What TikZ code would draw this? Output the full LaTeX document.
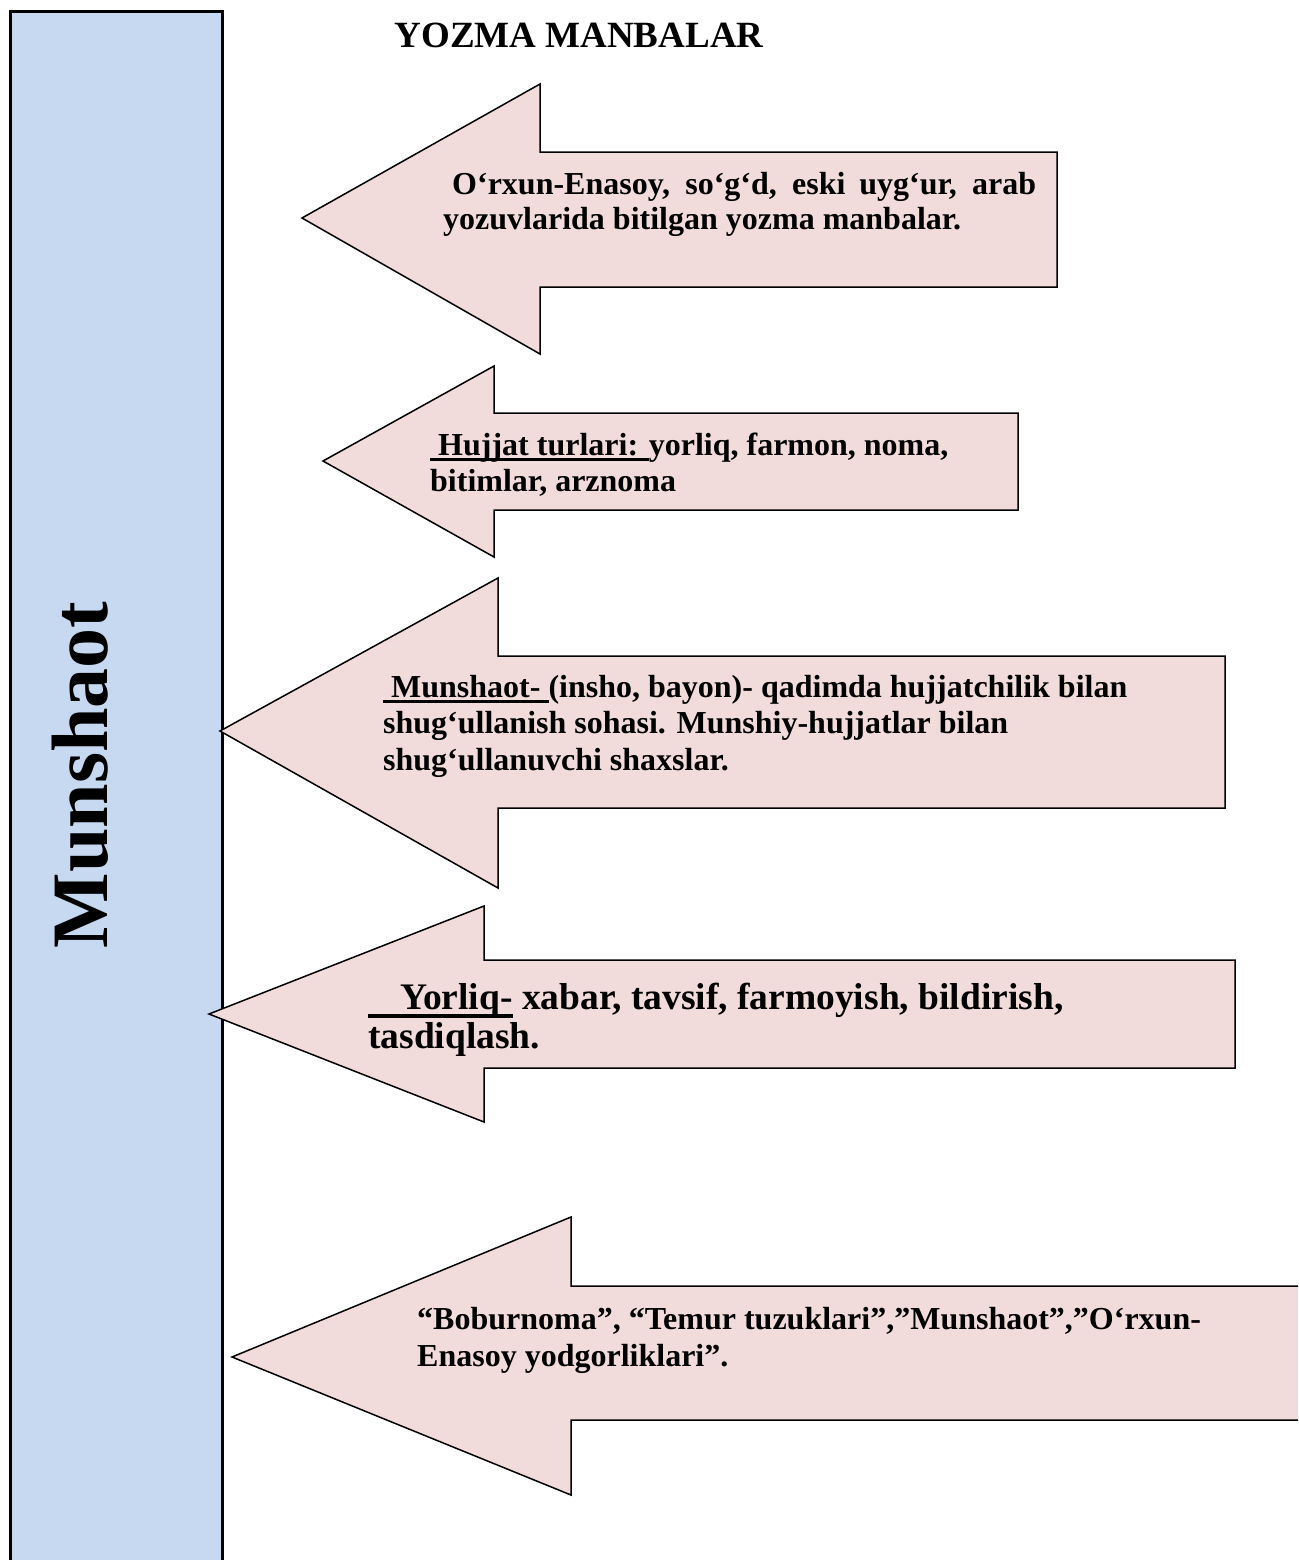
\documentclass[tikz,border=0pt]{standalone}
\usepackage{fontspec}
\setmainfont{Liberation Serif}
\definecolor{barblue}{HTML}{C6D9F0}
\definecolor{arrowpink}{HTML}{F2DCDB}
% thick underline that keeps the text width: [thickness, drop] {text}
\newcommand\thickul[3][3pt]{\setbox0\hbox{#3}\rlap{\rule[#2]{\wd0}{#1}}\box0\relax}
\begin{document}
\begin{tikzpicture}[x=1pt,y=-1pt,
  bar/.style={draw=black,line width=3pt,fill=barblue},
  leftarrow/.style={draw=black,line width=1.5pt,fill=arrowpink,line join=miter},
  txt/.style={anchor=base west,inner sep=0pt,font=\bfseries\fontsize{32}{37}\selectfont},
  bigtxt/.style={anchor=base west,inner sep=0pt,font=\bfseries\fontsize{37.5}{40}\selectfont}]
\useasboundingbox (0,0) rectangle (1298,1560);
\begin{scope}
\clip (0,0) rectangle (1298,1560);
% vertical bar on the left
\draw[bar] (10,12) rectangle (222,1600);
% arrow shapes: tip, head top, shaft top, right end, shaft bottom, head bottom
\draw[leftarrow] (302,218) -- (540,84) -- (540,152) -- (1057,152) -- (1057,287) -- (540,287) -- (540,354) -- cycle;
\draw[leftarrow] (323,461) -- (494,366) -- (494,413) -- (1018,413) -- (1018,510) -- (494,510) -- (494,557) -- cycle;
\draw[leftarrow] (220,731) -- (498,578) -- (498,656) -- (1225,656) -- (1225,808) -- (498,808) -- (498,888) -- cycle;
\draw[leftarrow] (209,1014) -- (484,906) -- (484,960) -- (1235,960) -- (1235,1068) -- (484,1068) -- (484,1122) -- cycle;
\draw[leftarrow] (232,1357) -- (571,1217) -- (571,1286) -- (1310,1286) -- (1310,1420) -- (571,1420) -- (571,1495) -- cycle;
\end{scope}

\node[anchor=base,inner sep=0pt,font=\bfseries\fontsize{37}{40}\selectfont] (title) at (579,48) {YOZMA MANBALAR};

\node[rotate=90,inner sep=0pt,font=\bfseries\fontsize{80}{90}\selectfont] (side) at (80,775) {Munshaot};

% arrow 1
\node[txt] (a1l1) at (452,194) {\makebox[584pt][s]{O‘rxun-Enasoy, so‘g‘d, eski uyg‘ur, arab}};
\node[txt] (a1l2) at (443,229) {yozuvlarida bitilgan yozma manbalar.};
% arrow 2
\node[txt] (a2l1) at (430,455) {\thickul{-6pt}{\ Hujjat turlari: }yorliq, farmon, noma,};
\node[txt] (a2l2) at (430,491) {bitimlar, arznoma};
% arrow 3
\node[txt] (a3l1) at (383,697) {\thickul{-6pt}{\ Munshaot- }(insho, bayon)- qadimda hujjatchilik bilan};
\node[txt] (a3l2) at (383,733) {shug‘ullanish sohasi. Munshiy-hujjatlar bilan};
\node[txt] (a3l3) at (383,770) {shug‘ullanuvchi shaxslar.};
% arrow 4
\node[bigtxt] (a4l1) at (368,1009) {\thickul[4pt]{-9pt}{\hspace*{32pt}Yorliq-} xabar, tavsif, farmoyish, bildirish,};
\node[bigtxt] (a4l2) at (368,1048) {tasdiqlash.};
% arrow 5
\node[txt] (a5l1) at (417,1329) {“Boburnoma”, “Temur tuzuklari”,”Munshaot”,”O‘rxun-};
\node[txt] (a5l2) at (417,1366) {Enasoy yodgorliklari”.};
\end{tikzpicture}
\end{document}
